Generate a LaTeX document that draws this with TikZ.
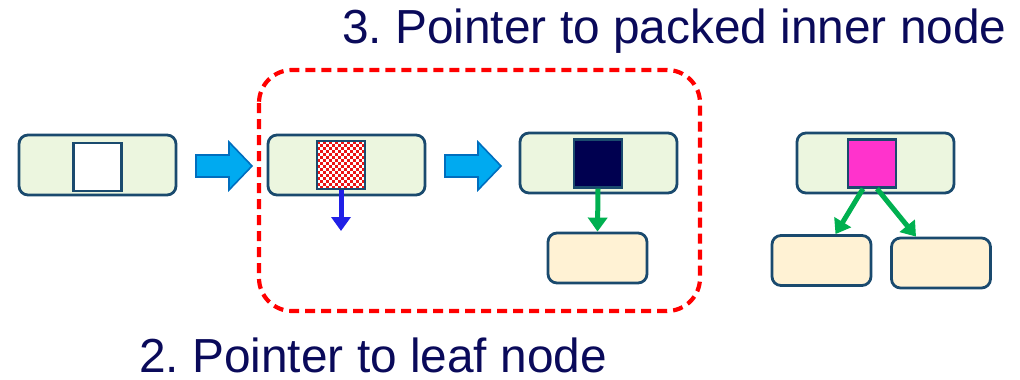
\documentclass[tikz,border=0pt]{standalone}
\usepackage{fontspec}
\setmainfont{Liberation Sans}
\usetikzlibrary{arrows.meta}
\definecolor{navy}{RGB}{10,10,90}
\definecolor{edge}{RGB}{26,74,110}
\definecolor{innerfill}{RGB}{236,246,223}
\definecolor{leaffill}{RGB}{255,242,212}
\definecolor{blockfill}{RGB}{0,170,240}
\definecolor{blockedge}{RGB}{0,110,190}
\definecolor{ptrgreen}{RGB}{0,176,80}
\definecolor{ptrblue}{RGB}{32,32,230}
\definecolor{darkslot}{RGB}{0,0,80}
\definecolor{magslot}{RGB}{255,51,204}
\definecolor{hatchred}{RGB}{235,20,20}
\tikzset{
  x=1pt, y=-1pt,
  innerbox/.style={draw=edge, line width=2.8pt, fill=innerfill, rounded corners=9pt,
    minimum width=157pt, minimum height=60pt, inner sep=0pt},
  leafbox/.style={draw=edge, line width=2.8pt, fill=leaffill, rounded corners=9pt,
    minimum width=99pt, minimum height=50pt, inner sep=0pt},
  slot/.style={draw=edge, line width=2.4pt, minimum size=48pt, inner sep=0pt},
  blockarrow/.style={draw=blockedge, line width=1.6pt, fill=blockfill, line join=miter},
  ptr/.style={line width=5pt, -{Triangle[length=14pt,width=19pt]}},
  group/.style={draw=red, line width=4.2pt, dash pattern=on 10pt off 6pt, rounded corners=33pt},
  caption/.style={text=navy, font=\fontsize{47.8}{52}\selectfont\frenchspacing,
    inner sep=0pt, anchor=base west}
}
% block arrow pointing right, starting at #1 (left end, vertical centre)
\newcommand\blockarrowat[1]{%
  \draw[blockarrow] (#1) ++(0,-11) -- ++(33,0) -- ++(0,-13) -- ++(23,24)
    -- ++(-23,24) -- ++(0,-13) -- ++(-33,0) -- cycle;}
\begin{document}
\begin{tikzpicture}
\useasboundingbox (0,0) rectangle (1020,380);

% captions
\node[caption] (cap3) at (342,43) {3. Pointer to packed inner node};
\node[caption] (cap2) at (139,372) {2. Pointer to leaf node};

% dashed group around the partly packed nodes
\draw[group] (259,70) rectangle (700,311);

% inner nodes
\node[innerbox] (n1) at (97.5,165) {};
\node[innerbox] (n2) at (346.5,165) {};
\node[innerbox] (n3) at (598.5,163) {};
\node[innerbox] (n4) at (875.5,163) {};

% slots
\node[slot, fill=white] (s1) at (97.5,167) {};
\node[slot] (s2) at (341,165) {};
\begin{scope}
  \clip (317,141) rectangle (365,189);
  \fill[white] (317,141) rectangle (365,189);
  \foreach \i in {0,...,15} {
    \foreach \j in {0,...,15} {
      \pgfmathtruncatemacro{\parity}{mod(\i+\j,2)}
      \ifnum\parity=0
        \fill[hatchred] (317+3*\i,141+3*\j) rectangle ++(3,3);
      \fi
    }
  }
\end{scope}
\node[slot] at (s2) {};
\node[slot, fill=darkslot] (s3) at (598,163.5) {};
\node[slot, fill=magslot] (s4) at (872,163.5) {};

% leaf nodes
\node[leafbox] (l3) at (597.5,258) {};
\node[leafbox] (l4a) at (821.5,260.5) {};
\node[leafbox] (l4b) at (941,263) {};

% block arrows between stages
\coordinate (a1) at (196,166);
\coordinate (a2) at (445,166);
\blockarrowat{a1}
\blockarrowat{a2}

% pointers
\coordinate (leafend) at (341,231);
\draw[ptr, ptrblue] (s2.south) -- (leafend);
\draw[ptr, ptrgreen] (s3.south) -- (l3.north);
\draw[ptr, ptrgreen] ([xshift=-9pt]s4.south) -- ([xshift=14pt]l4a.north);
\draw[ptr, ptrgreen] ([xshift=5pt]s4.south) -- ([xshift=-25pt]l4b.north);
\end{tikzpicture}
\end{document}
